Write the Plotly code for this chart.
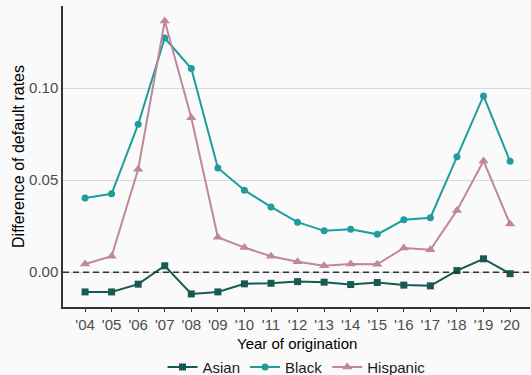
import plotly.graph_objects as go

years = list(range(2004, 2021))
year_labels = ["'%02d" % (y % 100) for y in years]

asian = [-0.0107, -0.0107, -0.0065, 0.0035, -0.0118, -0.0107, -0.0063, -0.0060,
         -0.0051, -0.0054, -0.0067, -0.0056, -0.0070, -0.0074, 0.0009, 0.0073, -0.0008]
black = [0.0404, 0.0426, 0.0804, 0.1273, 0.1107, 0.0567, 0.0446, 0.0355,
         0.0272, 0.0225, 0.0233, 0.0206, 0.0285, 0.0296, 0.0627, 0.0958, 0.0603]
hispanic = [0.0045, 0.0087, 0.0560, 0.1365, 0.0840, 0.0190, 0.0134, 0.0087,
            0.0057, 0.0035, 0.0045, 0.0043, 0.0132, 0.0122, 0.0336, 0.0605, 0.0262]

series = [
    ("Asian", asian, "#175a52", "square", 7),
    ("Black", black, "#1f9d9d", "circle", 7),
    ("Hispanic", hispanic, "#c0869b", "triangle-up", 9),
]

fig = go.Figure()
for name, vals, color, symbol, size in series:
    fig.add_trace(go.Scatter(
        x=years, y=vals, name=name, mode="lines+markers",
        line=dict(color=color, width=2),
        marker=dict(color=color, symbol=symbol, size=size),
    ))

# reference line at zero
fig.add_hline(y=0, line=dict(color="#333333", width=1.5, dash="6px,4px"))

# x-axis title placed just under the tick labels
fig.add_annotation(text="Year of origination", xref="paper", yref="paper",
                   x=0.5, y=-0.12, xanchor="center", yanchor="middle", showarrow=False,
                   font=dict(size=15, color="#000000"))

fig.update_layout(
    width=531, height=375,
    margin=dict(l=63, r=1, t=6, b=68, autoexpand=False),
    paper_bgcolor="#fafafa", plot_bgcolor="#fafafa",
    font=dict(family="Liberation Sans, Arial, sans-serif", size=15, color="#000000"),
    showlegend=True,
    legend=dict(orientation="h", x=0.5, xanchor="center", y=-0.2, yanchor="middle",
                font=dict(size=15, color="#1a1a1a"), bgcolor="rgba(0,0,0,0)",
                itemwidth=30, tracegroupgap=0),
)
fig.update_xaxes(
    range=[2003.17, 2020.75], tickmode="array", tickvals=years, ticktext=year_labels,
    showgrid=False, zeroline=False, showline=True, linecolor="#333333", linewidth=1.5,
    ticks="outside", ticklen=3, tickcolor="#333333", tickwidth=1,
    tickfont=dict(size=15, color="#4d4d4d"), automargin=False,
)
fig.update_yaxes(
    range=[-0.0189, 0.1447], tickvals=[0, 0.05, 0.10], ticktext=["0.00", "0.05", "0.10"],
    showgrid=True, gridcolor="#d9d9d9", gridwidth=1, zeroline=False,
    showline=True, linecolor="#333333", linewidth=1.5, ticks="",
    tickfont=dict(size=15, color="#4d4d4d"), automargin=False,
    title=dict(text="Difference of default rates", font=dict(size=16, color="#000000"), standoff=0),
)

fig.write_html("out.html")
